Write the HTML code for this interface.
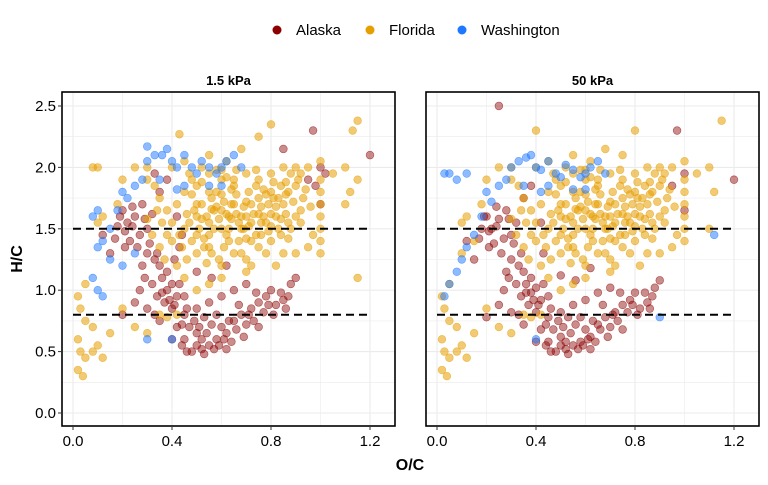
<!DOCTYPE html>
<html><head><meta charset="utf-8">
<style>
body{margin:0;background:#fff;}
svg text{font-family:"Liberation Sans",Arial,sans-serif;}
</style></head>
<body>
<svg id="chart" width="768" height="480" viewBox="0 0 768 480" xmlns="http://www.w3.org/2000/svg">
<g id="legend">
 <g><circle cx="277" cy="30" r="4.5" fill="#8B0000"/><text x="296" y="35" font-size="15">Alaska</text></g>
 <g><circle cx="370" cy="30" r="4.5" fill="#E69F00"/><text x="389" y="35" font-size="15">Florida</text></g>
 <g><circle cx="462" cy="30" r="4.5" fill="#1E78FF"/><text x="481" y="35" font-size="15">Washington</text></g>
</g>
<text x="0" y="0" transform="translate(22,259) rotate(-90)" text-anchor="middle" font-size="16" font-weight="bold">H/C</text>
<text x="410" y="470" text-anchor="middle" font-size="16" font-weight="bold">O/C</text>
<g id="panels"></g>
</svg>
<script>
const xTicks=[0.0,0.4,0.8,1.2];
const xTickLabels=["0.0","0.4","0.8","1.2"];
const yTicks=[0.0,0.5,1.0,1.5,2.0,2.5];
const yTickLabels=["0.0","0.5","1.0","1.5","2.0","2.5"];
const panelTitles=["1.5 kPa","50 kPa"];
const refLines=[1.5,0.8];

const floridaCore=[[0.43,1.45],[0.47,1.55],[0.49,1.65],[0.51,1.5],[0.53,1.42],[0.54,1.6],[0.56,1.75],[0.57,1.5],[0.59,1.58],[0.61,1.72],[0.61,1.35],[0.63,1.5],[0.64,1.82],[0.66,1.62],[0.67,1.4],[0.69,1.68],[0.71,1.8],[0.71,1.52],[0.73,1.62],[0.74,1.45],[0.76,1.68],[0.77,1.82],[0.79,1.7],[0.79,1.48],[0.81,1.88],[0.83,1.75],[0.84,1.58],[0.86,1.62],[0.87,1.42],[0.89,1.72],[0.91,1.9],[0.92,1.55],[0.94,1.82],[0.96,1.68],[0.48,1.78],[0.52,1.88],[0.56,1.3],[0.58,1.98],[0.62,1.92],[0.66,1.98],[0.68,1.3],[0.72,1.2],[0.74,1.98],[0.78,1.3],[0.82,1.2],[0.86,1.88],[0.88,1.95],[0.46,1.62],[0.5,1.45],[0.54,1.22],[0.6,1.5],[0.64,1.58],[0.7,1.42],[0.76,1.55],[0.8,1.62],[0.84,1.45],[0.9,1.6],[0.58,1.68],[0.62,1.62],[0.66,1.78],[0.7,1.72],[0.74,1.85],[0.78,1.78],[0.82,1.68],[0.86,1.78],[0.52,1.58],[0.56,1.66],[0.6,1.78],[0.64,1.7],[0.68,1.6],[0.72,1.55],[0.76,1.45],[0.8,1.52],[0.84,1.85],[0.4,1.4],[0.44,1.35],[0.42,1.2],[0.38,1.45],[0.36,1.55],[0.34,1.65],[0.32,1.45],[0.3,1.58],[0.35,1.35],[0.37,1.25],[0.92,1.95],[0.97,1.45],[0.95,1.35],[0.9,1.3],[0.65,1.9],[0.6,1.98],[0.55,1.8],[0.5,1.7],[0.45,1.8],[0.48,1.9],[0.63,1.4],[0.69,1.5],[0.75,1.62],[0.81,1.75],[0.87,1.55],[0.53,1.35],[0.59,1.25]];
const alaskaCore=[[0.19,1.6],[0.21,1.48],[0.24,1.52],[0.24,1.68],[0.29,1.58],[0.31,1.38],[0.34,1.3],[0.29,1.1],[0.32,1.05],[0.34,0.95],[0.36,0.98],[0.39,0.92],[0.41,0.88],[0.43,1.05],[0.45,0.95],[0.44,0.72],[0.46,0.85],[0.49,0.75],[0.51,0.7],[0.53,0.78],[0.54,0.65],[0.56,0.72],[0.57,0.52],[0.59,0.55],[0.61,0.6],[0.63,0.75],[0.64,0.58],[0.66,0.68],[0.67,0.88],[0.69,0.62],[0.71,0.8],[0.73,0.75],[0.74,0.98],[0.77,0.82],[0.79,0.88],[0.81,0.8],[0.84,0.98],[0.86,0.85],[0.87,0.95],[0.5,0.55],[0.46,0.5],[0.44,0.55],[0.52,0.52],[0.62,0.52],[0.27,1.0],[0.33,0.8],[0.21,1.35],[0.17,1.42]];

const alaska1=[[0.2,1.65],[0.22,1.55],[0.25,1.6],[0.27,1.45],[0.3,1.5],[0.23,1.4],[0.18,1.52],[0.28,1.7],[0.32,1.62],[0.26,1.35],[0.3,1.3],[0.33,1.25],[0.35,1.2],[0.36,1.1],[0.38,1.0],[0.37,0.9],[0.4,0.85],[0.42,0.95],[0.4,1.05],[0.38,1.15],[0.41,1.25],[0.43,1.35],[0.45,0.8],[0.47,0.7],[0.5,0.65],[0.52,0.6],[0.55,0.55],[0.58,0.6],[0.6,0.7],[0.62,0.65],[0.65,0.75],[0.68,0.8],[0.7,0.72],[0.72,0.85],[0.75,0.9],[0.78,0.95],[0.8,1.0],[0.82,0.88],[0.85,0.92],[0.88,1.05],[0.9,1.1],[0.5,0.85],[0.55,0.9],[0.6,0.95],[0.65,1.0],[0.48,0.5],[0.53,0.48],[0.45,0.6],[0.42,0.7],[0.35,0.75],[0.3,0.85],[0.25,0.9],[0.2,0.8],[0.15,1.3],[0.12,1.45],[0.35,1.8],[0.38,1.9],[0.33,1.95],[0.42,1.6],[0.5,1.15],[0.56,1.1],[0.62,1.2],[0.7,1.05],[0.95,1.9],[1.0,1.7],[0.98,1.85],[1.0,2.0],[1.02,1.95],[0.97,2.3],[1.2,2.1],[0.85,2.15],[0.4,0.6],[0.58,0.8],[0.75,0.7],[0.44,1.45],[0.28,1.2]];
const florida1=[[0.45,1.5],[0.5,1.6],[0.55,1.55],[0.6,1.65],[0.65,1.7],[0.7,1.6],[0.75,1.75],[0.8,1.8],[0.85,1.7],[0.9,1.85],[0.48,1.4],[0.52,1.7],[0.58,1.8],[0.62,1.45],[0.68,1.5],[0.72,1.4],[0.78,1.55],[0.82,1.6],[0.88,1.5],[0.92,1.65],[0.5,1.85],[0.55,1.95],[0.6,1.9],[0.65,1.85],[0.7,1.95],[0.75,1.9],[0.8,1.95],[0.85,2.0],[0.9,2.0],[0.95,2.0],[0.42,1.7],[0.46,1.25],[0.5,1.3],[0.55,1.35],[0.6,1.2],[0.65,1.3],[0.7,1.25],[0.75,1.35],[0.8,1.4],[0.85,1.3],[0.4,1.55],[0.38,1.65],[0.35,1.75],[0.33,1.85],[0.3,2.0],[0.4,2.0],[0.45,2.05],[0.55,2.1],[0.62,2.05],[0.68,2.15],[0.75,2.25],[0.8,2.35],[0.43,2.27],[1.0,1.9],[1.0,1.8],[1.0,1.7],[1.0,1.6],[1.0,1.5],[1.0,1.4],[1.0,1.3],[1.0,2.05],[1.05,1.95],[1.1,2.0],[1.12,1.8],[1.15,1.9],[1.13,2.3],[1.15,2.38],[1.15,1.1],[1.1,1.7],[0.05,1.05],[0.02,0.95],[0.03,0.85],[0.05,0.75],[0.08,0.7],[0.02,0.6],[0.03,0.5],[0.05,0.45],[0.08,0.5],[0.1,0.55],[0.12,0.45],[0.02,0.35],[0.04,0.3],[0.15,0.65],[0.2,0.85],[0.25,0.7],[0.3,0.65],[0.35,0.8],[0.08,2.0],[0.1,2.0],[0.1,1.55],[0.12,1.6],[0.18,1.7],[0.2,1.9],[0.25,2.0],[0.3,1.9],[0.55,1.45],[0.63,1.6],[0.72,1.7],[0.77,1.6],[0.83,1.5],[0.87,1.8],[0.93,1.75],[0.57,1.65],[0.67,1.55],[0.47,1.95],[0.52,2.0],[0.5,1.0],[0.55,1.05],[0.45,1.1],[0.6,1.1],[0.7,1.15],[0.42,0.8],[0.38,0.78]];
const washington1=[[0.3,2.05],[0.33,2.1],[0.36,2.1],[0.38,2.15],[0.4,2.05],[0.42,2.0],[0.45,2.1],[0.48,2.0],[0.5,1.95],[0.52,2.05],[0.55,2.0],[0.58,1.95],[0.6,2.0],[0.62,2.05],[0.65,2.1],[0.68,2.0],[0.3,2.17],[0.2,1.8],[0.22,1.75],[0.18,1.65],[0.15,1.5],[0.12,1.4],[0.1,1.35],[0.15,1.25],[0.2,1.2],[0.25,1.3],[0.08,1.1],[0.1,1.0],[0.12,0.95],[0.25,1.85],[0.28,1.9],[0.45,1.85],[0.55,1.85],[0.35,1.9],[0.4,0.6],[0.3,0.6],[0.1,1.65],[0.08,1.6],[0.42,1.82],[0.6,1.85]];

const alaska2=[[0.2,1.6],[0.22,1.5],[0.25,1.58],[0.27,1.42],[0.3,1.45],[0.23,1.38],[0.18,1.5],[0.28,1.65],[0.32,1.55],[0.26,1.3],[0.3,1.25],[0.33,1.2],[0.35,1.15],[0.36,1.05],[0.38,0.98],[0.37,0.88],[0.4,0.82],[0.42,0.92],[0.4,1.02],[0.38,1.1],[0.25,2.5],[0.43,1.3],[0.45,0.78],[0.47,0.68],[0.5,0.62],[0.52,0.58],[0.55,0.55],[0.58,0.58],[0.6,0.68],[0.62,0.62],[0.65,0.72],[0.68,0.78],[0.7,0.7],[0.72,0.82],[0.75,0.88],[0.78,0.92],[0.8,0.98],[0.82,0.85],[0.85,0.9],[0.88,1.02],[0.9,1.08],[0.5,0.82],[0.55,0.88],[0.6,0.92],[0.65,0.98],[0.48,0.5],[0.53,0.48],[0.45,0.58],[0.42,0.68],[0.35,0.72],[0.3,0.82],[0.25,0.88],[0.2,0.78],[0.15,1.25],[0.12,1.4],[0.35,1.75],[0.38,1.85],[0.42,1.55],[0.5,1.12],[0.56,1.08],[0.62,1.18],[0.7,1.02],[0.95,1.85],[1.0,1.65],[1.0,1.95],[0.97,2.3],[1.2,1.9],[0.4,0.58],[0.58,0.78],[0.75,0.68],[0.28,1.15]];
const florida2=[[0.45,1.5],[0.5,1.6],[0.55,1.55],[0.6,1.65],[0.65,1.7],[0.7,1.6],[0.75,1.75],[0.8,1.8],[0.85,1.7],[0.9,1.85],[0.48,1.4],[0.52,1.7],[0.58,1.8],[0.62,1.45],[0.68,1.5],[0.72,1.4],[0.78,1.55],[0.82,1.6],[0.88,1.5],[0.92,1.65],[0.5,1.85],[0.55,1.95],[0.6,1.9],[0.65,1.85],[0.7,1.95],[0.75,1.9],[0.8,1.95],[0.85,2.0],[0.9,2.0],[0.95,2.0],[0.42,1.7],[0.46,1.25],[0.5,1.3],[0.55,1.35],[0.6,1.2],[0.65,1.3],[0.7,1.25],[0.75,1.35],[0.8,1.4],[0.85,1.3],[0.4,1.55],[0.38,1.65],[0.35,1.75],[0.33,1.85],[0.3,2.0],[0.4,2.0],[0.45,2.05],[0.55,2.1],[0.62,2.05],[0.68,2.15],[0.75,2.1],[0.8,2.3],[0.4,2.3],[1.0,1.9],[1.0,1.8],[1.0,1.7],[1.0,1.6],[1.0,1.5],[1.0,1.4],[1.0,2.05],[1.05,1.95],[1.1,2.0],[1.12,1.8],[1.15,2.38],[1.1,1.5],[0.05,1.05],[0.02,0.95],[0.03,0.85],[0.05,0.75],[0.08,0.7],[0.02,0.6],[0.03,0.5],[0.05,0.45],[0.08,0.5],[0.1,0.55],[0.12,0.45],[0.02,0.35],[0.04,0.3],[0.15,0.65],[0.2,0.85],[0.25,0.7],[0.3,0.65],[0.35,0.8],[0.1,1.55],[0.12,1.6],[0.18,1.7],[0.2,1.9],[0.25,2.0],[0.3,1.9],[0.55,1.45],[0.63,1.6],[0.72,1.7],[0.77,1.6],[0.83,1.5],[0.87,1.8],[0.93,1.75],[0.57,1.65],[0.67,1.55],[0.47,1.95],[0.52,2.0],[0.5,1.0],[0.55,1.05],[0.45,1.1],[0.6,1.1],[0.7,1.15],[0.42,0.8],[0.38,0.78],[0.1,1.3],[0.15,1.4]];
const washington2=[[0.3,2.0],[0.33,2.05],[0.36,2.08],[0.38,2.1],[0.4,2.0],[0.42,1.98],[0.45,2.05],[0.48,1.95],[0.5,1.92],[0.52,2.02],[0.55,1.98],[0.58,1.92],[0.6,1.95],[0.62,2.0],[0.65,2.05],[0.68,1.95],[0.03,1.95],[0.05,1.95],[0.08,1.9],[0.12,1.95],[0.2,1.8],[0.22,1.72],[0.18,1.6],[0.15,1.45],[0.12,1.35],[0.1,1.25],[0.08,1.15],[0.05,1.05],[0.03,0.95],[0.25,1.85],[0.28,1.9],[0.45,1.85],[0.55,1.82],[0.35,1.85],[0.4,0.6],[0.9,0.78],[1.12,1.45],[0.42,1.8],[0.6,1.82]];

const panels=[
 {x0:62,x1:395,title:panelTitles[0],showY:true,data:[["alaska",alaska1.concat(alaskaCore),"#8B0000"],["florida",florida1.concat(floridaCore),"#E69F00"],["washington",washington1,"#1E78FF"]]},
 {x0:426,x1:759,title:panelTitles[1],showY:false,data:[["alaska",alaska2.concat(alaskaCore),"#8B0000"],["florida",florida2.concat(floridaCore),"#E69F00"],["washington",washington2,"#1E78FF"]]}
];
const plotTop=92,plotBottom=426;
const NS="http://www.w3.org/2000/svg";
const root=document.getElementById("panels");
function mk(tag,attrs,parent){const e=document.createElementNS(NS,tag);for(const k in attrs)e.setAttribute(k,attrs[k]);parent.appendChild(e);return e;}
function yScale(v){return 413-v*122.8;}
panels.forEach((p,pi)=>{
 const off=p.x0-62;
 const xScale=v=>73+off+v*247.5;
 const g=mk("g",{},root);
 
 
 const t=mk("text",{x:(p.x0+p.x1)/2,y:85,"text-anchor":"middle","font-size":"13","font-weight":"bold"},g);
 t.textContent=p.title;
 
 
 for(let i=0;i<=10;i++){const v=i*0.25;const y=yScale(v);const l=mk("line",{x1:p.x0,x2:p.x1,y1:y,y2:y,stroke:"#ebebeb","stroke-width":i%2===0?1.1:0.6},g);}
 for(let i=0;i<=6;i++){const v=i*0.2;const x=xScale(v);const l=mk("line",{x1:x,x2:x,y1:plotTop,y2:plotBottom,stroke:"#ebebeb","stroke-width":i%2===0?1.1:0.6},g);}
 p.data.forEach(([name,pts,col])=>{
  pts.forEach(([a,b])=>{
   const c=mk("circle",{cx:xScale(a),cy:yScale(b),r:3.9,fill:col,"fill-opacity":name==="alaska"?0.45:(name==="florida"?0.55:0.5),stroke:col,"stroke-opacity":0.6,"stroke-width":0.6},g);
   
   
  });
 });
 refLines.forEach(v=>{const l=mk("line",{x1:xScale(0),x2:xScale(1.2),y1:yScale(v),y2:yScale(v),stroke:"#000","stroke-width":2,"stroke-dasharray":"8,5"},g);});
 const r=mk("rect",{x:p.x0,y:plotTop,width:p.x1-p.x0,height:plotBottom-plotTop,fill:"none",stroke:"#000","stroke-width":1.6},g);
 
 
 xTicks.forEach((v,i)=>{const x=xScale(v);mk("line",{x1:x,x2:x,y1:plotBottom,y2:plotBottom+4,stroke:"#333"},g);const tx=mk("text",{x:x,y:446,"text-anchor":"middle","font-size":"15"},g);tx.textContent=xTickLabels[i];});
 if(p.showY){yTicks.forEach((v,i)=>{const y=yScale(v);mk("line",{x1:p.x0-4,x2:p.x0,y1:y,y2:y,stroke:"#333"},g);const ty=mk("text",{x:p.x0-6,y:y+5,"text-anchor":"end","font-size":"15"},g);ty.textContent=yTickLabels[i];});}
});
</script>
</body></html>
